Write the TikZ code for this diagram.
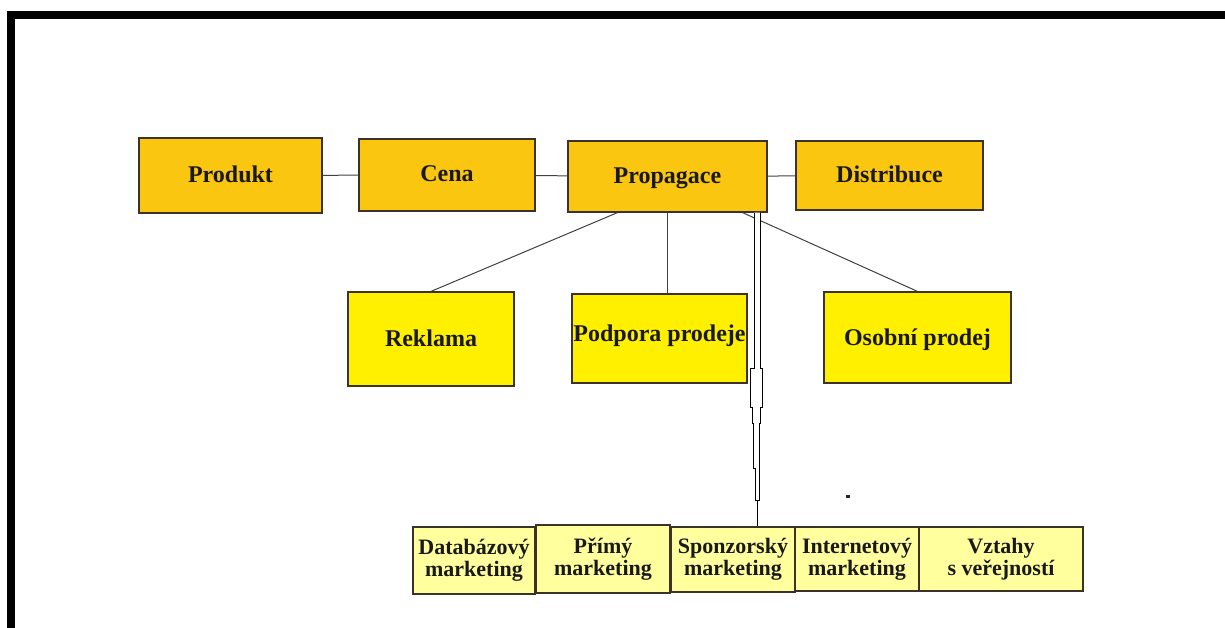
\documentclass[tikz,border=0pt]{standalone}
\usepackage{fontspec}
\setmainfont{Liberation Serif}
\definecolor{mixorange}{RGB}{251,198,16}
\definecolor{toolyellow}{RGB}{255,240,0}
\definecolor{subyellow}{RGB}{255,255,158}
\definecolor{boxline}{RGB}{60,50,40}

\begin{document}
\begin{tikzpicture}[x=1pt, y=-1pt,
    box/.style={draw=boxline, line width=1.2pt, inner sep=0pt, align=center, font=\bfseries, text=black!90},
    mixbox/.style={box, fill=mixorange, font=\bfseries\fontsize{24}{28}\selectfont, text height=18pt, text depth=4pt},
    toolbox/.style={box, fill=toolyellow, font=\bfseries\fontsize{24}{28}\selectfont, text height=18pt},
    subbox/.style={box, fill=subyellow, font=\bfseries\fontsize{22}{22}\selectfont},
    link/.style={draw=black!75, line width=1pt}]
    \useasboundingbox (0,0) rectangle (1225,628);

    % Frame
    \draw[line width=8pt, line join=miter] (11,628) -- (11,15) -- (1225,15);

    % Marketing mix
    \node[mixbox, minimum width=183, minimum height=75] (prod) at (230.5,175.5) {Produkt};
    \node[mixbox, minimum width=176, minimum height=72] (cena) at (447,175) {Cena};
    \node[mixbox, minimum width=199, minimum height=71] (prop) at (667.5,176.5) {Propagace};
    \node[mixbox, minimum width=187, minimum height=69] (dist) at (889.5,175.5) {Distribuce};
    \foreach \a/\b in {prod/cena, cena/prop, prop/dist} {
        \draw[link] (\a) -- (\b);
    }

    % Promotion tools
    \node[toolbox, minimum width=166, minimum height=94, text depth=2.6pt] (rekl) at (431,339) {Reklama};
    \node[toolbox, minimum width=175, minimum height=89, text depth=11.6pt] (podp) at (659.5,338.5) {Podpora prodeje};
    \node[toolbox, minimum width=187, minimum height=91, text depth=1.6pt] (osob) at (917.5,337.5) {Osobní prodej};
    \draw[link] ([xshift=-50]prop.south) -- (rekl.north);
    \draw[link] (prop.south) -- (prop.south |- podp.north);
    \draw[link] ([xshift=75]prop.south) -- (osob.north);

    % Other forms
    \node[subbox, minimum width=122, minimum height=67] (data) at (474,560.5) {Databázový\\marketing};
    \node[subbox, minimum width=134, minimum height=68] (prim) at (603,559) {Přímý\\marketing};
    \node[subbox, minimum width=124, minimum height=65] (spon) at (733,559.5) {Sponzorský\\marketing};
    \node[subbox, minimum width=124, minimum height=64] (inet) at (857,559) {Internetový\\marketing};
    \node[subbox, minimum width=164, minimum height=64] (vzta) at (1001,559) {Vztahy\\s veřejností};

    % Tapered link down to the lower row
    \begin{scope}[shift={(prop.south)}]
        \draw[line width=0.9pt, fill=white]
            (86.5,0) -- (86.5,156) -- (82.5,156) -- (82.5,195) -- (84.5,195) -- (84.5,211)
            -- (85.5,211) -- (85.5,256) -- (88,256) -- (88,288) -- (91.5,288) -- (91.5,256)
            -- (92,256) -- (92,211) -- (92.5,211) -- (92.5,195) -- (94.5,195) -- (94.5,156)
            -- (92.5,156) -- (92.5,0);
        \coordinate (tip) at (90,288);
    \end{scope}
    \draw[line width=1.3pt] (tip) -- (tip |- spon.north);

    \fill[black!85] (846,495) rectangle (850,498);
\end{tikzpicture}
\end{document}
